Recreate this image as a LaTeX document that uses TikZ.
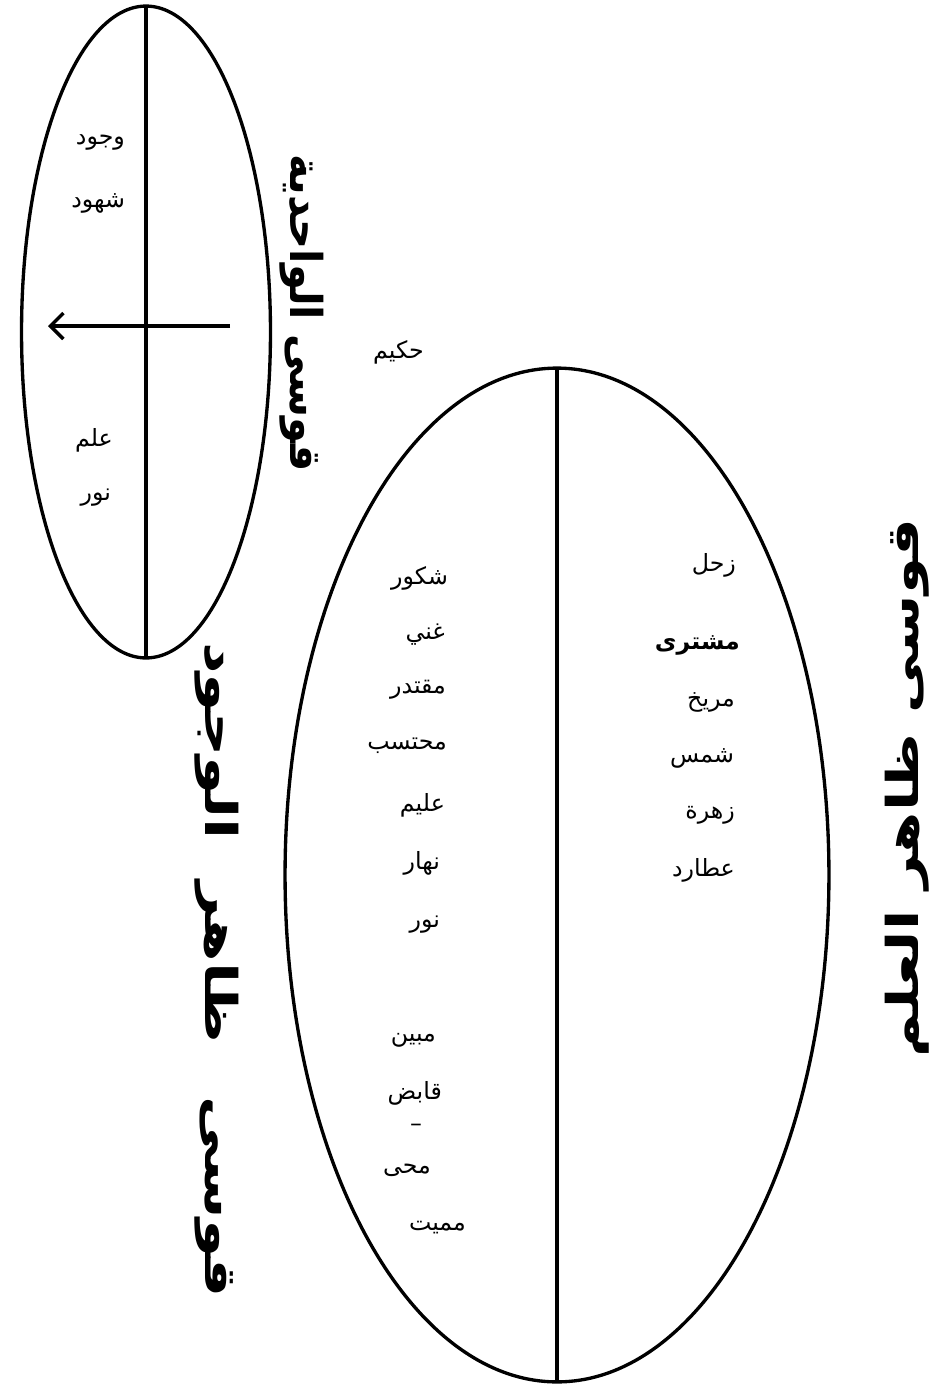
\documentclass[tikz,border=0pt]{standalone}
\usepackage{fontspec}
\usepackage{graphicx}
\newfontfamily\arabicfont[Script=Arabic]{DejaVu Sans}
\TeXXeTstate=1
\usetikzlibrary{shapes.geometric, arrows.meta, positioning}

\begin{document}
\begin{tikzpicture}[
    x=0.02cm, y=-0.02cm,
    oval/.style={ellipse, draw=black, line width=1.9pt, inner sep=0pt, outer sep=0pt},
    word/.style={font=\arabicfont\fontsize{13.5}{16}\selectfont, inner sep=1pt, anchor=east},
    heading/.style={font=\arabicfont\bfseries\fontsize{25}{30}\selectfont, inner sep=0pt},
    axis/.style={line width=1.9pt},
    arrow/.style={-{Straight Barb[length=2.6mm, width=5.2mm, line width=2pt]}, line width=1.9pt}
]
\useasboundingbox (0,0) rectangle (947,1384);
% the two ovals
\node (small) [oval, minimum width=4.98cm, minimum height=13.04cm] at (146,332) {};
\node (big) [oval, minimum width=10.88cm, minimum height=20.28cm] at (557,875) {};
\draw [axis] (small.north) -- (small.south);
\draw [axis] (big.north) -- (big.south);
\coordinate (tail) at (230,326);
\coordinate (head) at (48,326);
\draw [arrow] (tail) -- (head);
% small oval
\node (wujud) [word] at (127,142) {\beginR وجود\endR};
\node (shuhud) [word] at (127,203) {\beginR شهود\endR};
\node (ilm) [word] at (115,440) {\beginR علم\endR};
\node (nura) [word] at (113,498) {\beginR نور\endR};
\node (hakim) [word] at (426,352) {\beginR حكيم\endR};
% big oval, left half
\node (shakur) [word] at (450,578) {\beginR شكور\endR};
\node (ghani) [word] at (447,635) {\beginR غني\endR};
\node (muqtadir) [word] at (448,690) {\beginR مقتدر\endR};
\node (muhtasib) [word] at (449,746) {\beginR محتسب\endR};
\node (alim) [word] at (447,805) {\beginR عليم\endR};
\node (nahar) [word] at (442,863) {\beginR نهار\endR};
\node (nurb) [word] at (442,925) {\beginR نور\endR};
\node (mubin) [word] at (438,1040) {\beginR مبين\endR};
\node (qabid) [word] at (444,1093) {\beginR قابض\endR};
\node (dash) [word] at (424,1128) {–};
\node (muhyi) [word] at (433,1170) {\beginR محى\endR};
\node (mumit) [word] at (468,1228) {\beginR مميت\endR};
% big oval, right half
\node (zuhal) [word] at (738,565) {\beginR زحل\endR};
\node (mushtari) [word, font=\arabicfont\bfseries\fontsize{13.5}{16}\selectfont] at (742,645) {\beginR مشترى\endR};
\node (mirrikh) [word] at (737,702) {\beginR مريخ\endR};
\node (shams) [word] at (736,758) {\beginR شمس\endR};
\node (zuhra) [word] at (737,815) {\beginR زهرة\endR};
\node (utarid) [word] at (737,870) {\beginR عطارد\endR};
% headings
\node (wahid) [heading, rotate=-90] at (302,313) {\scalebox{0.95}[1]{\beginR قوسی الواحدية\endR}};
\node (wujudh) [heading, rotate=-90] at (217,970) {\scalebox{1.4}[1]{\beginR قوسی\hspace{0.45cm} ظاهر\hspace{0.3cm} الوجود\endR}};
\node (ilmh) [heading, rotate=90] at (907,788) {\scalebox{1.35}[1]{\beginR قوسی ظاهر العلم\endR}};
\end{tikzpicture}
\end{document}
